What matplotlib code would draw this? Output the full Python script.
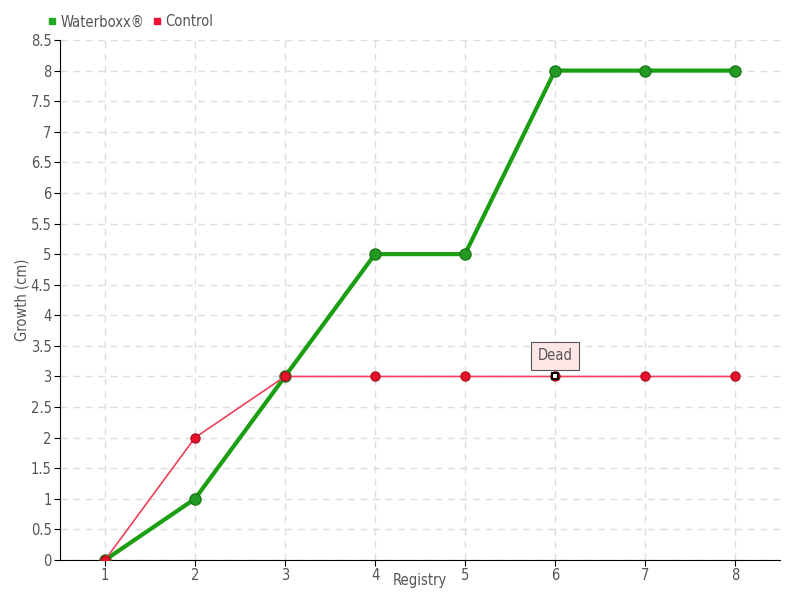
import matplotlib
matplotlib.use('Agg')
import matplotlib.pyplot as plt
from matplotlib.lines import Line2D
import numpy as np

registry = [1, 2, 3, 4, 5, 6, 7, 8]
waterboxx = [0, 1, 3, 5, 5, 8, 8, 8]
control = [0, 2, 3, 3, 3, 3, 3, 3]
yticks = np.arange(0, 8.51, 0.5)
ytick_labels = ['0', '0.5', '1', '1.5', '2', '2.5', '3', '3.5', '4', '4.5',
                '5', '5.5', '6', '6.5', '7', '7.5', '8', '8.5']

plt.rcParams['font.family'] = ['DejaVu Sans']
plt.rcParams['font.stretch'] = 'condensed'
txt = '#555555'

fig = plt.figure(figsize=(8, 6), dpi=100)
ax = fig.add_axes([60/800, 40/600, 720/800, 520/600])

ax.plot(registry, waterboxx, color='#1a9e12', lw=3, zorder=3)
ax.plot(registry, waterboxx, 'o', color='#229922', mec='#1b7a1b', ms=8, zorder=4)
ax.plot(registry, control, color='#f0405a', lw=1.2, zorder=5)
ax.plot(registry, control, 'o', color='#e8102a', mec='#b01020', ms=6.5, zorder=6)
# dead marker
ax.plot(registry[5], control[5], 's', color='white', mec='black', mew=1.5, ms=5, zorder=7)

ax.annotate('Dead', xy=(registry[5], control[5]), xytext=(0, 15),
            textcoords='offset points', ha='center', va='center',
            fontsize=10.5, color='#555555',
            bbox=dict(boxstyle='square,pad=0.45', fc='#ffe6e6', ec='#555555', lw=0.8),
            arrowprops=dict(arrowstyle='-', color='#555555', lw=0.8,
                            shrinkA=0, shrinkB=4),
            zorder=8)

ax.set_xlim(0.5, 8.5)
ax.set_ylim(0, 8.5)
ax.set_xticks(registry)
ax.set_yticks(yticks)
ax.set_yticklabels(ytick_labels)
ax.tick_params(colors='black', labelcolor=txt, labelsize=10.5, length=4,
               direction='out', pad=2)
ax.grid(True, color='#dddddd', ls=(0, (5, 4)), lw=1)
ax.set_axisbelow(True)
for s in ['top', 'right']:
    ax.spines[s].set_visible(False)

fig.text(420/800, 1 - 581/600, 'Registry', color=txt, fontsize=10.5,
         ha='center', va='center')
fig.text(22/800, 1 - 300/600, 'Growth (cm)', color=txt, fontsize=10.5,
         ha='center', va='center', rotation=90)

handles = [Line2D([], [], ls='', marker='s', color='#22aa22', ms=5),
           Line2D([], [], ls='', marker='s', color='#ee1133', ms=5)]
fig.legend(handles, ['Waterboxx\u00ae', 'Control'], loc='center left',
           bbox_to_anchor=(45/800, 1 - 22/600), ncol=2, frameon=False,
           fontsize=10.5, labelcolor=txt, handletextpad=0.05, columnspacing=0.4,
           handlelength=1, borderaxespad=0, borderpad=0)

fig.savefig('out.png', dpi=100)
